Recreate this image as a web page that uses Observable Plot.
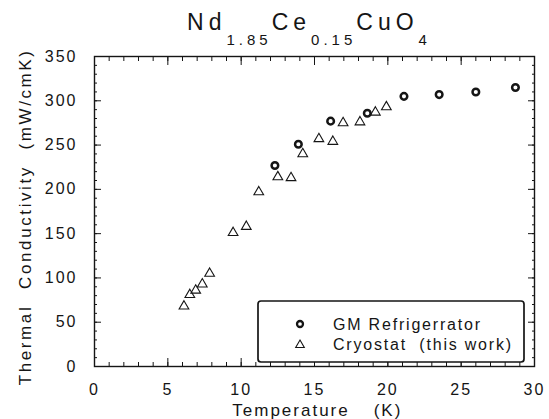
<!DOCTYPE html>
<html>
<head>
<meta charset="utf-8">
<script src="https://cdn.jsdelivr.net/npm/d3@7"></script>
<script src="https://cdn.jsdelivr.net/npm/@observablehq/plot@0.6"></script>
<style>
  html, body { margin: 0; padding: 0; background: #fff; }
  #chart { position: relative; width: 549px; height: 419px; }
  #chart svg { display: block; }
</style>
</head>
<body>
<div id="chart"></div>
<script>
// --- Data ---
const gmTemp  = [12.3, 13.9, 16.1, 18.6, 21.1, 23.5, 26.0, 28.7];
const gmCond  = [227, 251, 277, 286, 305, 307, 310, 315];
const cryoTemp = [6.1, 6.5, 6.9, 7.35, 7.85, 9.45, 10.35, 11.2, 12.5, 13.4, 14.2, 15.3, 16.25, 16.95, 18.1, 19.15, 19.9];
const cryoCond = [68, 81, 86, 93, 105, 151, 158, 197, 214, 213, 240, 257, 254, 275, 276, 287, 293];
const xMajor = [0, 5, 10, 15, 20, 25, 30];
const yMajor = [0, 50, 100, 150, 200, 250, 300, 350];
const seriesNames = ["GM Refrigerrator", "Cryostat  (this work)"];

const xMinor = d3.range(0, 31, 1);
const yMinor = d3.range(0, 351, 10);
const gm = gmTemp.map((t, i) => ({t, k: gmCond[i]}));
const cryo = cryoTemp.map((t, i) => ({t, k: cryoCond[i]}));

const INK = "#151515";
const FONT = "'Liberation Sans', Arial, Helvetica, sans-serif";
const blank = () => "";

const plot = Plot.plot({
  width: 549,
  height: 419,
  marginLeft: 94,
  marginRight: 15,
  marginTop: 56,
  marginBottom: 53,
  style: {fontFamily: FONT, fontSize: "16px", color: INK, background: "#fff"},
  x: {domain: [0, 30]},
  y: {domain: [0, 350]},
  marks: [
    // tick labels
    Plot.axisX(xMajor, {anchor: "bottom", tickSize: 0, tickPadding: 17, label: null, fill: INK, tickFormat: d => String(d)}),
    Plot.axisY(yMajor, {anchor: "left", tickSize: 0, tickPadding: 17, label: null, fill: INK, tickFormat: d => String(d)}),
    // inward ticks on all four sides
    Plot.axisX(xMinor, {anchor: "bottom", tickSize: -4, label: null, tickFormat: blank, stroke: INK}),
    Plot.axisX(xMajor, {anchor: "bottom", tickSize: -8, label: null, tickFormat: blank, stroke: INK}),
    Plot.axisX(xMinor, {anchor: "top", tickSize: -4, label: null, tickFormat: blank, stroke: INK}),
    Plot.axisX(xMajor, {anchor: "top", tickSize: -8, label: null, tickFormat: blank, stroke: INK}),
    Plot.axisY(yMinor, {anchor: "left", tickSize: -3, label: null, tickFormat: blank, stroke: INK}),
    Plot.axisY(yMajor, {anchor: "left", tickSize: -7, label: null, tickFormat: blank, stroke: INK}),
    Plot.axisY(yMinor, {anchor: "right", tickSize: -3, label: null, tickFormat: blank, stroke: INK}),
    Plot.axisY(yMajor, {anchor: "right", tickSize: -7, label: null, tickFormat: blank, stroke: INK}),
    Plot.frame({stroke: INK, strokeWidth: 1.4}),
    // data
    Plot.dot(cryo, {x: "t", y: "k", symbol: "triangle", r: 3.6, stroke: INK, strokeWidth: 1.1, fill: "none"}),
    Plot.dot(gm, {x: "t", y: "k", symbol: "circle", r: 3.3, stroke: INK, strokeWidth: 2.5, fill: "#fff"})
  ]
});

document.getElementById("chart").appendChild(plot);
const svg = d3.select(plot);
svg.selectAll("text").style("letter-spacing", "2px");

// Title with subscripts
const title = svg.append("text")
  .attr("x", 309).attr("y", 30)
  .attr("text-anchor", "middle")
  .attr("fill", INK)
  .style("font-family", FONT)
  .style("font-size", "23px")
  .style("letter-spacing", "5px");
const parts = [["Nd", false], ["1.85", true], ["Ce", false], ["0.15", true], ["CuO", false], ["4", true]];
parts.forEach(([s, sub], i) => {
  const ts = title.append("tspan").text(s);
  if (sub) ts.attr("dy", 15).style("font-size", "15px").style("letter-spacing", "4px");
  else if (i > 0) ts.attr("dy", -15);
});

// Y axis label (rotated)
const yLabel = [["Thermal", 345], ["Conductivity", 227], ["(mW/cmK)", 99]];
yLabel.forEach(([s, cy]) => {
  svg.append("text")
    .attr("transform", `translate(31,${cy}) rotate(-90)`)
    .attr("text-anchor", "middle")
    .attr("fill", INK)
    .style("font-family", FONT)
    .style("font-size", "17px")
    .style("letter-spacing", "2.6px")
    .text(s);
});

// X axis label
[["Temperature", 291], ["(K)", 388]].forEach(([s, cx]) => {
  svg.append("text")
    .attr("x", cx).attr("y", 416)
    .attr("text-anchor", "middle")
    .attr("fill", INK)
    .style("font-family", FONT)
    .style("font-size", "17px")
    .style("letter-spacing", "2px")
    .text(s);
});

// Legend box
const lg = svg.append("g");
lg.append("rect")
  .attr("x", 258).attr("y", 301).attr("width", 266).attr("height", 61)
  .attr("rx", 3)
  .attr("fill", "#fff").attr("stroke", INK).attr("stroke-width", 1.7);
lg.append("path")
  .attr("transform", "translate(300,324)")
  .attr("d", d3.symbol(d3.symbolCircle, Math.PI * 3.0 * 3.0)())
  .attr("fill", "#fff").attr("stroke", INK).attr("stroke-width", 2.3);
lg.append("path")
  .attr("transform", "translate(300,345)")
  .attr("d", d3.symbol(d3.symbolTriangle, Math.PI * 3.2 * 3.2)())
  .attr("fill", "none").attr("stroke", INK).attr("stroke-width", 1.1);
const legendWidths = [147, 178];
seriesNames.forEach((s, i) => {
  lg.append("text")
    .attr("x", 333).attr("y", 330 + i * 20)
    .attr("text-anchor", "start")
    .attr("fill", INK)
    .attr("textLength", legendWidths[i])
    .attr("lengthAdjust", "spacing")
    .style("font-family", FONT)
    .style("font-size", "16px")
    .style("letter-spacing", "0px")
    .style("white-space", "pre")
    .text(s);
});
</script>
</body>
</html>
